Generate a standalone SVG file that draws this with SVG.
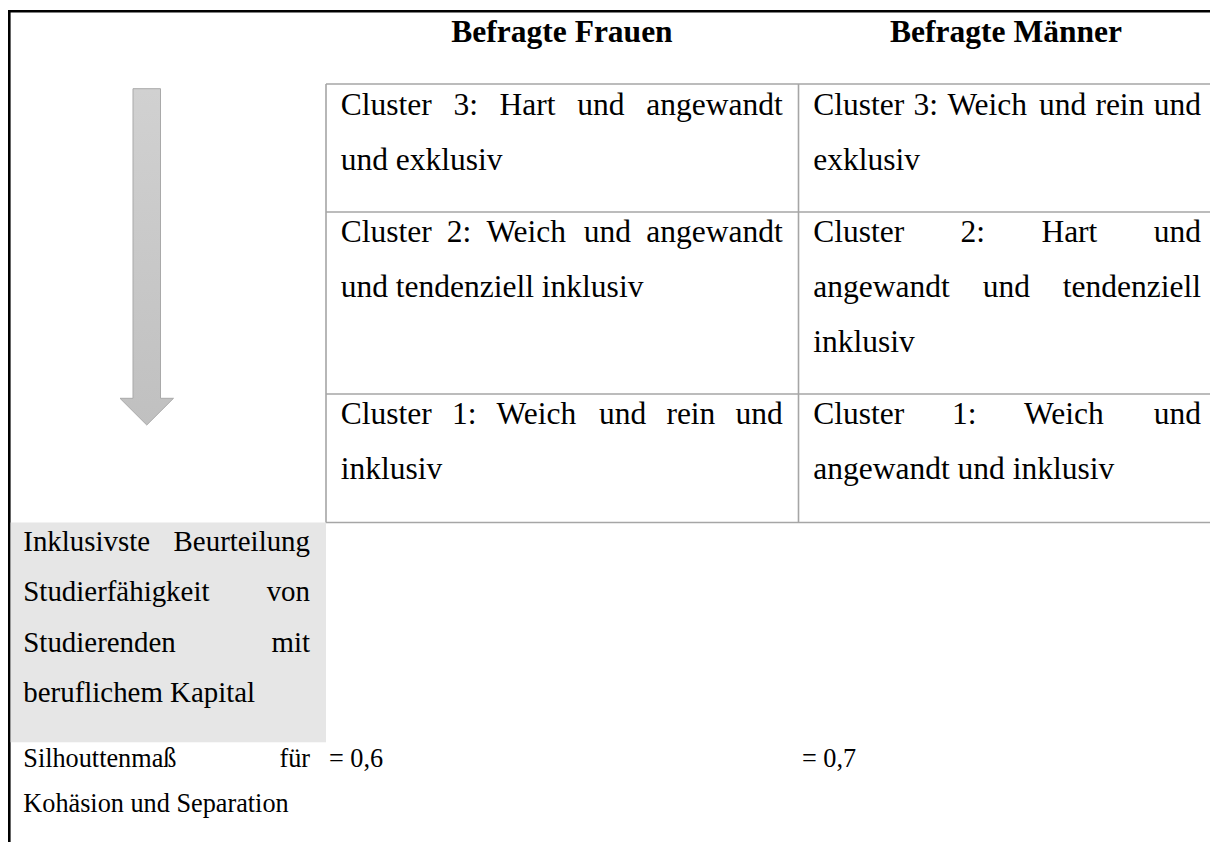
<svg xmlns="http://www.w3.org/2000/svg" width="1210" height="842" viewBox="0 0 1210 842">
<defs>
<linearGradient id="arrowGrad" x1="0" y1="0" x2="0" y2="1">
<stop offset="0" stop-color="#d1d1d1"/>
<stop offset="1" stop-color="#c0c0c0"/>
</linearGradient>
<style>
text{font-family:"Liberation Serif","Times New Roman",serif;fill:#000}
.hd{font-size:31.5px;font-weight:bold;text-anchor:middle}
.b{font-size:31.5px}
.s{font-size:28.9px}
.xs{font-size:26.25px}
.grid{stroke:#a6a6a6;stroke-width:1.6;fill:none}
.frame{stroke:#000;stroke-width:2.6;fill:none}
.e{text-anchor:end}
</style>
</defs>
<rect x="0" y="0" width="1210" height="842" fill="#fff"/>
<g id="frame">
<path class="frame" d="M9.3 842 V11.3 H1210"/>
</g>
<g id="label-bg">
<rect x="10.6" y="522.5" width="315.4" height="219.8" fill="#e6e6e6"/>
</g>
<g id="table-grid">
<path class="grid" d="M326 84 H1210 M326 212 H1210 M326 394 H1210 M326 522.5 H1210 M326 84 V522.5 M798.5 84 V522.5"/>
</g>
<g id="header-frauen"><text class="hd" x="562" y="42">Befragte Frauen</text></g>
<g id="header-maenner"><text class="hd" x="1006" y="42">Befragte Männer</text></g>
<g id="f-cluster3">
<text class="b" y="115"><tspan x="340.7">Cluster</tspan><tspan x="453.4">3:</tspan><tspan x="499.6">Hart</tspan><tspan x="577.3">und</tspan></text>
<text class="b e" x="782.7" y="115">angewandt</text>
<text class="b" x="340.7" y="170">und exklusiv</text>
</g>
<g id="f-cluster2">
<text class="b" y="241.5"><tspan x="340.7">Cluster</tspan><tspan x="446.8">2:</tspan><tspan x="486.4">Weich</tspan><tspan x="583.7">und</tspan></text>
<text class="b e" x="782.7" y="241.5">angewandt</text>
<text class="b" x="340.7" y="296.5">und tendenziell inklusiv</text>
</g>
<g id="f-cluster1">
<text class="b" y="423.5"><tspan x="340.7">Cluster</tspan><tspan x="451.9">1:</tspan><tspan x="496.6">Weich</tspan><tspan x="599">und</tspan><tspan x="666.4">rein</tspan></text>
<text class="b e" x="782.7" y="423.5">und</text>
<text class="b" x="340.7" y="478.5">inklusiv</text>
</g>
<g id="m-cluster3">
<text class="b" y="115"><tspan x="813.3">Cluster</tspan><tspan x="913.6">3:</tspan><tspan x="947.4">Weich</tspan><tspan x="1038.9">und</tspan><tspan x="1095.4">rein</tspan></text>
<text class="b e" x="1201" y="115">und</text>
<text class="b" x="813.3" y="170">exklusiv</text>
</g>
<g id="m-cluster2">
<text class="b" y="241.5"><tspan x="813.3">Cluster</tspan><tspan x="960.6">2:</tspan><tspan x="1041.4">Hart</tspan></text>
<text class="b e" x="1201" y="241.5">und</text>
<text class="b" y="296.5"><tspan x="813.3">angewandt</tspan><tspan x="982.7">und</tspan></text>
<text class="b e" x="1201" y="296.5">tendenziell</text>
<text class="b" x="813.3" y="351.5">inklusiv</text>
</g>
<g id="m-cluster1">
<text class="b" y="423.5"><tspan x="813.3">Cluster</tspan><tspan x="951.9">1:</tspan><tspan x="1024">Weich</tspan></text>
<text class="b e" x="1201" y="423.5">und</text>
<text class="b" x="813.3" y="478.5">angewandt und inklusiv</text>
</g>
<g id="label-inklusivste">
<text class="s" x="23.3" y="550.7">Inklusivste</text>
<text class="s e" x="310" y="550.7">Beurteilung</text>
<text class="s" x="23.3" y="601.1">Studierfähigkeit</text>
<text class="s e" x="310" y="601.1">von</text>
<text class="s" x="23.3" y="651.5">Studierenden</text>
<text class="s e" x="310" y="651.5">mit</text>
<text class="s" x="23.3" y="701.9">beruflichem Kapital</text>
</g>
<g id="label-silhouette">
<text class="xs" x="23.3" y="766.7">Silhouttenmaß</text>
<text class="xs e" x="310" y="766.7">für</text>
<text class="xs" x="23.3" y="811.7">Kohäsion und Separation</text>
</g>
<g id="value-frauen"><text class="xs" x="329" y="766.7">= 0,6</text></g>
<g id="value-maenner"><text class="xs" x="802" y="766.7">= 0,7</text></g>
<g id="connectors">
<path d="M133 88.7 H160.5 V398.3 H173.5 L146.75 425 L120 398.3 H133 Z" fill="url(#arrowGrad)" stroke="#a9a9a9" stroke-width="1"/>
</g>
</svg>
